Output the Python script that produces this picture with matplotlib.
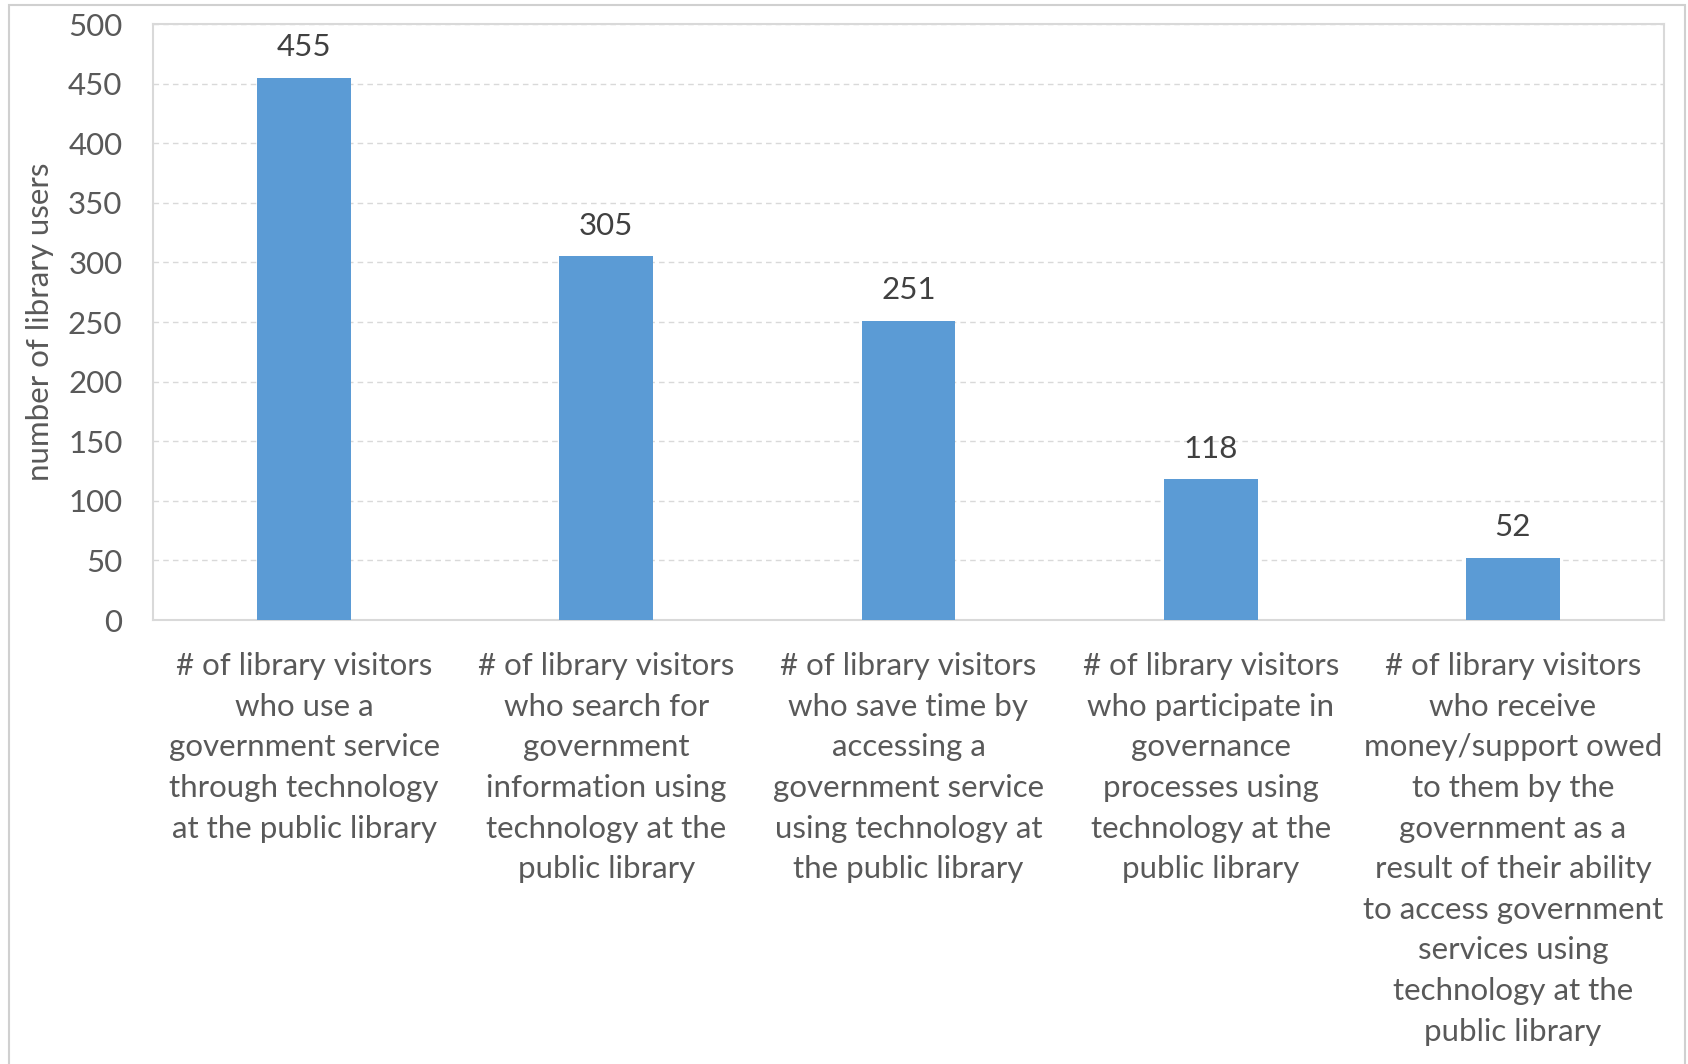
import matplotlib
matplotlib.use("Agg")
import matplotlib.pyplot as plt
from matplotlib.patches import Rectangle

categories = [
    "# of library visitors\nwho use a\ngovernment service\nthrough technology\nat the public library",
    "# of library visitors\nwho search for\ngovernment\ninformation using\ntechnology at the\npublic library",
    "# of library visitors\nwho save time by\naccessing a\ngovernment service\nusing technology at\nthe public library",
    "# of library visitors\nwho participate in\ngovernance\nprocesses using\ntechnology at the\npublic library",
    "# of library visitors\nwho receive\nmoney/support owed\nto them by the\ngovernment as a\nresult of their ability\nto access government\nservices using\ntechnology at the\npublic library",
]
values = [455, 305, 251, 118, 52]
yticks = [0, 50, 100, 150, 200, 250, 300, 350, 400, 450, 500]
ylabel = "number of library users"

plt.rcParams['font.family'] = ['Lato', 'DejaVu Sans']
TXT = '#595959'
FS = 22.5
W, H = 1688, 1064
fig = plt.figure(figsize=(W / 100, H / 100), dpi=100)
fig.patches.append(Rectangle((9 / W, -0.1), (1685 - 9) / W, 1.1 - 5 / H,
                             transform=fig.transFigure, fill=False,
                             edgecolor='#d0d0d0', lw=1.5))
ax = fig.add_axes([153 / W, 1 - 620 / H, 1511 / W, 596 / H])

x = list(range(len(values)))
ax.bar(x, values, width=0.31, color='#5B9BD5', zorder=3)
for xi, v in zip(x, values):
    ax.annotate(str(v), (xi, v), xytext=(0, 22), textcoords='offset points',
                ha='center', va='center', fontsize=FS, color='#404040')

ax.set_xlim(-0.5, len(values) - 0.5)
ax.set_ylim(0, 500)
ax.set_yticks(yticks)
ax.set_yticklabels([str(t) for t in yticks], fontsize=FS, color=TXT)
ax.set_xticks(x)
ax.set_xticklabels(categories, fontsize=FS, color=TXT, linespacing=1.55)
ax.tick_params(axis='both', length=0)
ax.tick_params(axis='y', pad=22)
ax.tick_params(axis='x', pad=23)
ax.grid(axis='y', color='#d9d9d9', linestyle=(0, (4, 3)), lw=1, zorder=0)
for s in ax.spines.values():
    s.set_color('#d9d9d9')
    s.set_linewidth(1.5)
ax.set_ylabel(ylabel, fontsize=FS, color=TXT)
ax.yaxis.set_label_coords((54 - 153) / 1511, 0.5)

fig.savefig("out.png", dpi=100, facecolor='white')
